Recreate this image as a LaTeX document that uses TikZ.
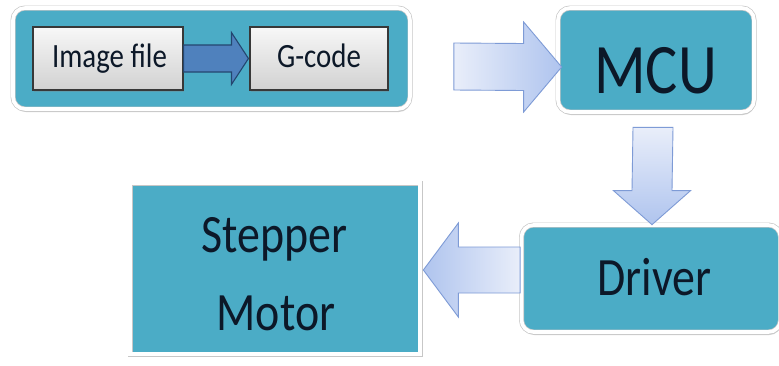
\documentclass[tikz,border=0pt]{standalone}
\usepackage{fontspec}
\setmainfont{Carlito}
\usetikzlibrary{calc,shadows}

\definecolor{aqua}{HTML}{4BACC6}
\definecolor{inktext}{HTML}{0C1828}
\definecolor{pale}{HTML}{E9EEFA}
\definecolor{paleblue}{HTML}{AFC4EE}
\definecolor{paleedge}{HTML}{7E9BD6}
\definecolor{deepblue}{HTML}{4F81BD}
\definecolor{deepedge}{HTML}{24466F}

\newcommand\slim[1]{\scalebox{0.85}[1]{#1}}

\tikzset{
  panel/.style={fill=aqua, draw=black!22, line width=0.7pt, double=white, double distance=3.6pt,
    drop shadow={shadow xshift=0.8pt, shadow yshift=-3pt, opacity=0.45, fill=gray!80}},
  roundpanel/.style={panel, rounded corners=12pt},
  greybox/.style={draw=black!78, line width=1.1pt, top color=black!3, bottom color=black!18,
    drop shadow={shadow xshift=1pt, shadow yshift=-1.5pt, opacity=0.3}},
  label/.style={text=inktext, inner sep=0pt, anchor=base},
  lightarrow/.style={draw=paleedge, line width=0.9pt, line join=miter},
  darkarrow/.style={draw=deepedge, fill=deepblue, line width=1.1pt, line join=miter},
}

\begin{document}
\begin{tikzpicture}[x=1pt, y=-1pt]
  \useasboundingbox (0,0) rectangle (779,365);
  \fill[white] (0,0) rectangle (779,365);

  % blocks
  \node[roundpanel, minimum width=397pt, minimum height=101pt] (src) at (211.5,58.5) {};
  \node[greybox, minimum width=150pt, minimum height=63pt] (img) at (108,58.5) {};
  \node[greybox, minimum width=138pt, minimum height=63pt] (gcd) at (319,58.5) {};
  \node[roundpanel, minimum width=196pt, minimum height=104pt] (mcu) at (656,60) {};
  \node[roundpanel, minimum width=259pt, minimum height=107pt] (drv) at (651,278.5) {};
  \node[panel, minimum width=290pt, minimum height=171pt] (stp) at (275,268.5) {};

  % texts
  \node[label, font=\fontsize{34}{40}\selectfont] (imgt) at (109.5,67) {\slim{Image file}};
  \node[label, font=\fontsize{34}{40}\selectfont] (gcdt) at (319,67) {\slim{G-code}};
  \node[label, font=\fontsize{71}{80}\selectfont] (mcut) at (655.5,93) {\slim{MCU}};
  \node[label, font=\fontsize{54}{60}\selectfont] (drvt) at (654.5,295) {\slim{Driver}};
  \node[label, font=\fontsize{54}{60}\selectfont] (stpt) at (274.5,252) {\slim{Stepper}};
  \node[label, font=\fontsize{54}{60}\selectfont] (mott) at (276,330) {\slim{Motor}};

  % Image file -> G-code
  \coordinate (a0s) at (img.east);
  \coordinate (a0t) at ($(gcd.west)+(-1,0)$);
  \draw[darkarrow]
    ($(a0s)+(0,-13.5)$) -- ($(a0t)+(-17,-13.5)$) -- ($(a0t)+(-17,-26)$) -- (a0t)
    -- ($(a0t)+(-17,26)$) -- ($(a0t)+(-17,13.5)$) -- ($(a0s)+(0,13.5)$) -- cycle;

  % source panel -> MCU
  \coordinate (a1s) at ($(src.east)+(43.5,8)$);
  \coordinate (a1t) at ($(mcu.west)+(4,7)$);
  \draw[lightarrow, left color=pale, right color=paleblue]
    ($(a1s)+(0,-23.5)$) -- ($(a1t)+(-38,-23.5)$) -- ($(a1t)+(-38,-45)$) -- (a1t)
    -- ($(a1t)+(-38,45)$) -- ($(a1t)+(-38,23.5)$) -- ($(a1s)+(0,23.5)$) -- cycle;

  % MCU -> Driver
  \coordinate (a2s) at ($(mcu.south)+(-3,15)$);
  \coordinate (a2t) at ($(drv.north)+(1,0)$);
  \draw[lightarrow, top color=pale, bottom color=paleblue]
    ($(a2s)+(-20,0)$) -- ($(a2t)+(-20,-34)$) -- ($(a2t)+(-38.5,-34)$) -- (a2t)
    -- ($(a2t)+(38.5,-34)$) -- ($(a2t)+(20,-34)$) -- ($(a2s)+(20,0)$) -- cycle;

  % Driver -> Stepper Motor
  \coordinate (a3s) at ($(drv.west)+(-1,-8.5)$);
  \coordinate (a3t) at ($(stp.east)+(3,1.5)$);
  \draw[lightarrow, left color=paleblue, right color=pale]
    ($(a3s)+(0,-23)$) -- ($(a3t)+(35,-23)$) -- ($(a3t)+(35,-47)$) -- (a3t)
    -- ($(a3t)+(35,47)$) -- ($(a3t)+(35,23)$) -- ($(a3s)+(0,23)$) -- cycle;
\end{tikzpicture}
\end{document}
